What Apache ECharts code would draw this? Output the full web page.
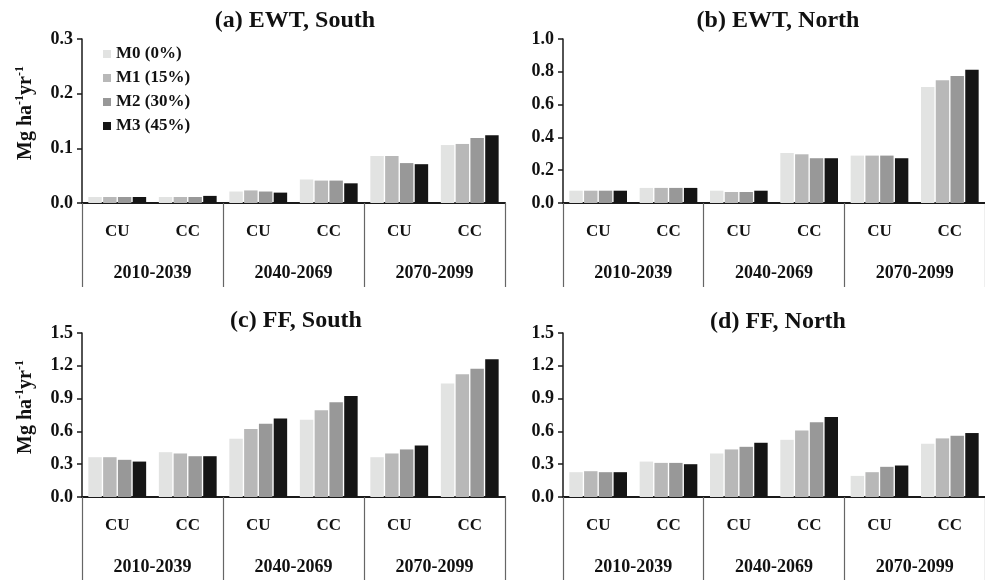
<!DOCTYPE html>
<html>
<head>
<meta charset="utf-8">
<script src="https://cdn.jsdelivr.net/npm/echarts@6/dist/echarts.min.js"></script>
<style>
html,body{margin:0;padding:0;background:#fff;}
#chart{width:985px;height:580px;}
</style>
</head>
<body>
<div id="chart"></div>
<script>
// ---- data ----
const scenarios = ['CU', 'CC', 'CU', 'CC', 'CU', 'CC'];
const periods = ['2010-2039', '2040-2069', '2070-2099'];
const seriesNames = ['M0 (0%)', 'M1 (15%)', 'M2 (30%)', 'M3 (45%)'];
const panelTitles = ['(a) EWT, South', '(b) EWT, North', '(c) FF, South', '(d) FF, North'];
const yMax = [0.3, 1.0, 1.5, 1.5];
const yInterval = [0.1, 0.2, 0.3, 0.3];

// values per series (M0..M3), each across CU,CC x 3 periods
const ewtSouthM0 = [0.011, 0.011, 0.021, 0.043, 0.086, 0.106];
const ewtSouthM1 = [0.011, 0.011, 0.023, 0.041, 0.086, 0.108];
const ewtSouthM2 = [0.011, 0.011, 0.021, 0.041, 0.073, 0.119];
const ewtSouthM3 = [0.011, 0.013, 0.019, 0.036, 0.071, 0.124];

const ewtNorthM0 = [0.075, 0.092, 0.075, 0.305, 0.289, 0.707];
const ewtNorthM1 = [0.075, 0.092, 0.067, 0.297, 0.289, 0.749];
const ewtNorthM2 = [0.075, 0.092, 0.067, 0.273, 0.289, 0.774];
const ewtNorthM3 = [0.075, 0.092, 0.075, 0.273, 0.273, 0.813];

const ffSouthM0 = [0.364, 0.410, 0.533, 0.707, 0.364, 1.038];
const ffSouthM1 = [0.364, 0.398, 0.621, 0.793, 0.398, 1.123];
const ffSouthM2 = [0.340, 0.373, 0.670, 0.866, 0.435, 1.172];
const ffSouthM3 = [0.324, 0.373, 0.719, 0.924, 0.471, 1.261];

const ffNorthM0 = [0.227, 0.324, 0.398, 0.523, 0.193, 0.487];
const ffNorthM1 = [0.236, 0.312, 0.435, 0.609, 0.227, 0.536];
const ffNorthM2 = [0.227, 0.312, 0.459, 0.683, 0.276, 0.560];
const ffNorthM3 = [0.227, 0.300, 0.496, 0.732, 0.288, 0.585];

const panelData = [
  [ewtSouthM0, ewtSouthM1, ewtSouthM2, ewtSouthM3],
  [ewtNorthM0, ewtNorthM1, ewtNorthM2, ewtNorthM3],
  [ffSouthM0, ffSouthM1, ffSouthM2, ffSouthM3],
  [ffNorthM0, ffNorthM1, ffNorthM2, ffNorthM3]
];

// ---- styling / layout ----
const FONT = '"Liberation Serif", "Times New Roman", serif';
const INK = '#111';
const colors = ['#e2e3e2', '#b8b8b8', '#989898', '#151515'];
const gridRects = [
  {left: 82, top: 39, width: 423, height: 164},
  {left: 563, top: 39, width: 424, height: 164},
  {left: 82, top: 333, width: 423, height: 164},
  {left: 563, top: 333, width: 424, height: 164}
];
const titlePos = [
  {x: 295, y: 9},
  {x: 778, y: 9},
  {x: 296, y: 309},
  {x: 778, y: 310}
];

const grid = [], xAxis = [], yAxis = [], series = [], title = [];

gridRects.forEach((r, p) => {
  grid.push(Object.assign({containLabel: false}, r));
  grid.push(Object.assign({containLabel: false}, r));
  const gMain = 2 * p, gPer = 2 * p + 1;

  xAxis.push({
    type: 'category', gridIndex: gMain, data: scenarios, position: 'bottom',
    axisLine: {show: true, lineStyle: {color: '#1a1a1a', width: 2}},
    axisTick: {show: false},
    axisLabel: {interval: 0, margin: 20, fontFamily: FONT, fontWeight: 'bold', fontSize: 17, color: INK}
  });
  xAxis.push({
    type: 'category', gridIndex: gPer, data: periods, position: 'bottom',
    axisLine: {show: false},
    axisTick: {show: true, interval: 0, length: 84, lineStyle: {color: '#666', width: 1.2}},
    axisLabel: {interval: 0, margin: 61, fontFamily: FONT, fontWeight: 'bold', fontSize: 18, color: INK}
  });

  const yMain = {
    type: 'value', gridIndex: gMain, min: 0, max: yMax[p], interval: yInterval[p],
    axisLine: {show: true, lineStyle: {color: '#1a1a1a', width: 1.5}},
    axisTick: {show: true, length: 5, lineStyle: {color: '#1a1a1a', width: 1.5}},
    splitLine: {show: false},
    axisLabel: {margin: 9, fontFamily: FONT, fontWeight: 'bold', fontSize: 18, color: INK,
      formatter: v => v.toFixed(1)}
  };
  if (p === 0 || p === 2) {
    yMain.name = '{m|Mg ha}{s|-1}{m|yr}{s|-1}';
    yMain.nameLocation = 'middle';
    yMain.nameRotate = 90;
    yMain.nameGap = 46;
    yMain.nameTextStyle = {
      padding: [0, 0, 0, 16],
      rich: {
        m: {fontFamily: FONT, fontWeight: 'bold', fontSize: 20, color: INK, lineHeight: 22, verticalAlign: 'bottom'},
        s: {fontFamily: FONT, fontWeight: 'bold', fontSize: 12, color: INK, lineHeight: 22, verticalAlign: 'top'}
      }
    };
  }
  yAxis.push(yMain);
  yAxis.push({type: 'value', gridIndex: gPer, show: false, min: 0, max: 1});

  title.push({
    text: panelTitles[p], left: titlePos[p].x, top: titlePos[p].y, textAlign: 'center', padding: 0,
    textStyle: {fontFamily: FONT, fontWeight: 'bold', fontSize: 24, color: INK}
  });

  panelData[p].forEach((vals, s) => {
    series.push({
      type: 'bar', name: seriesNames[s], xAxisIndex: gMain, yAxisIndex: gMain,
      data: vals, barGap: '10%', barCategoryGap: '18%',
      itemStyle: {color: colors[s]}
    });
  });
});

const chart = echarts.init(document.getElementById('chart'), null, {renderer: 'canvas'});
chart.setOption({
  animation: false,
  backgroundColor: '#fff',
  title: title,
  legend: {
    data: seriesNames, orient: 'vertical', left: 98, top: 40,
    icon: 'rect', itemWidth: 8, itemHeight: 8, itemGap: 6,
    textStyle: {fontFamily: FONT, fontWeight: 'bold', fontSize: 17, color: INK, lineHeight: 18},
    selectedMode: false
  },
  grid: grid,
  xAxis: xAxis,
  yAxis: yAxis,
  series: series
});
</script>
</body>
</html>
